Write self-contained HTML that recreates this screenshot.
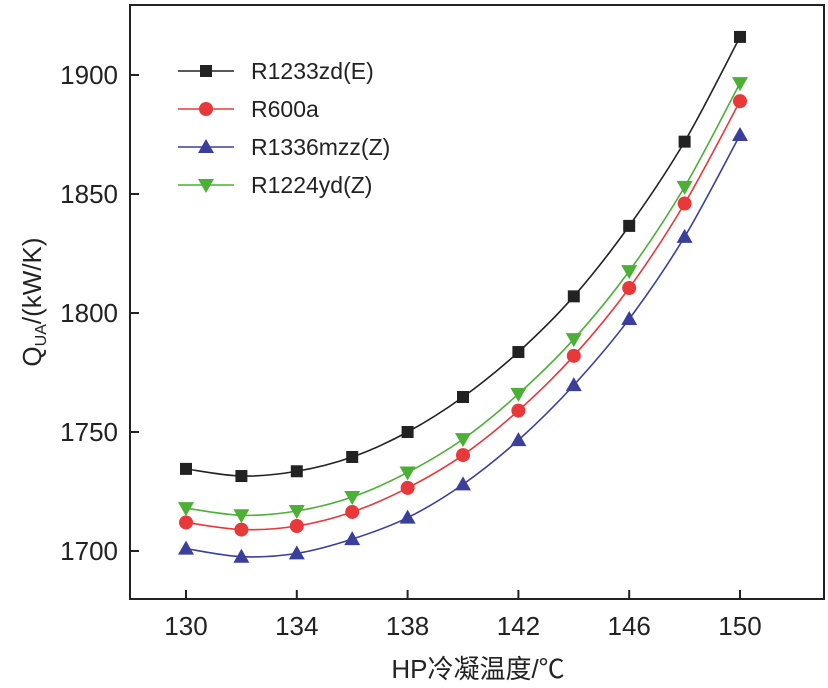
<!DOCTYPE html>
<html><head><meta charset="utf-8"><style>
body{margin:0;background:#fff;}
svg{display:block;font-family:"Liberation Sans","Noto Sans CJK SC",sans-serif;}
</style></head><body>
<svg id="c" width="828" height="688" viewBox="0 0 828 688"></svg>
<script>
const categories=[130,132,134,136,138,140,142,144,146,148,150];
const r1233=[1734.5,1731.5,1733.5,1739.5,1750,1764.7,1783.6,1807,1836.6,1872,1916];
const r600a=[1712,1709,1710.5,1716.4,1726.5,1740.3,1759,1782,1810.5,1846,1889];
const r1336=[1701,1697.6,1699,1705,1714,1728,1746.6,1769.7,1797.5,1832,1874.8];
const r1224=[1718,1715,1716.8,1722.7,1733,1747,1766,1789,1817.6,1853,1896.6];
const xTicks=[130,134,138,142,146,150];
const yTicks=[1700,1750,1800,1850,1900];
const seriesNames=["R1233zd(E)","R600a","R1336mzz(Z)","R1224yd(Z)"];
const NS="http://www.w3.org/2000/svg";
const svg=document.getElementById('c');
const L=130,R=824,T=5,B=599;
const x=v=>186+(v-130)*(740-186)/20;
const y=v=>551-(v-1700)*(551-75)/200;
function mk(t,a,p){const e=document.createElementNS(NS,t);for(const k in a)e.setAttribute(k,a[k]);(p||svg).appendChild(e);return e;}
const frame=mk('rect',{x:L,y:T,width:R-L,height:B-T,fill:'none',stroke:'#222','stroke-width':2});


xTicks.forEach(v=>{
  const l=mk('line',{x1:x(v),x2:x(v),y1:B,y2:B-9,stroke:'#222','stroke-width':2});
  
  
  const t=mk('text',{x:x(v),y:635,'text-anchor':'middle','font-size':26,fill:'#222'});
  t.textContent=v;
  
  
});
yTicks.forEach(v=>{
  const l=mk('line',{x1:L,x2:L+9,y1:y(v),y2:y(v),stroke:'#222','stroke-width':2});
  
  
  const t=mk('text',{x:118,y:y(v)+9,'text-anchor':'end','font-size':26,fill:'#222'});
  t.textContent=v;
  
  
});
const xt=mk('text',{x:478,y:678,'text-anchor':'middle','font-size':26,fill:'#222'});
xt.textContent='HP冷凝温度/℃';


const yt=mk('text',{transform:'translate(41,302) rotate(-90)','text-anchor':'middle','font-size':26,fill:'#222'});
yt.innerHTML='Q<tspan font-size="16" dy="5">UA</tspan><tspan dy="-5">/(kW/K)</tspan>';


function path(pts){let d=`M${pts[0][0]},${pts[0][1]}`;for(let i=0;i<pts.length-1;i++){const p0=pts[i-1]||pts[i],p1=pts[i],p2=pts[i+1],p3=pts[i+2]||p2;d+=` C${p1[0]+(p2[0]-p0[0])/6},${p1[1]+(p2[1]-p0[1])/6} ${p2[0]-(p3[0]-p1[0])/6},${p2[1]-(p3[1]-p1[1])/6} ${p2[0]},${p2[1]}`;}return d;}
function marker(kind,cx,cy,col,g){
  if(kind==='sq')return mk('rect',{x:cx-6,y:cy-6,width:12,height:12,fill:col},g);
  if(kind==='ci')return mk('circle',{cx,cy,r:7,fill:col},g);
  if(kind==='up')return mk('polygon',{points:`${cx},${cy-8} ${cx-8},${cy+6} ${cx+8},${cy+6}`,fill:col},g);
  return mk('polygon',{points:`${cx},${cy+8} ${cx-8},${cy-6} ${cx+8},${cy-6}`,fill:col},g);
}
const sets=[[r1233,'#222','sq','series-r1233zd'],[r600a,'#e8383a','ci','series-r600a'],[r1336,'#3a3f9c','up','series-r1336mzz'],[r1224,'#4caf36','dn','series-r1224yd']];
sets.forEach((s,i)=>{
  const g=mk('g',{});
  
  
  const pts=categories.map((c,j)=>[x(c),y(s[0][j])]);
  mk('path',{d:path(pts),fill:'none',stroke:s[1],'stroke-width':1.6},g);
  pts.forEach(p=>{const m=marker(s[2],p[0],p[1],s[1],g);});
  const ly=71+i*38;
  const lg=mk('g',{});
  
  
  mk('line',{x1:178,x2:234,y1:ly,y2:ly,stroke:s[1],'stroke-width':1.6},lg);
  marker(s[2],206,ly,s[1],lg);
  const t=mk('text',{x:251,y:ly+8,'font-size':23,fill:'#222'},lg);
  t.textContent=seriesNames[i];
});
</script>
</body></html>
